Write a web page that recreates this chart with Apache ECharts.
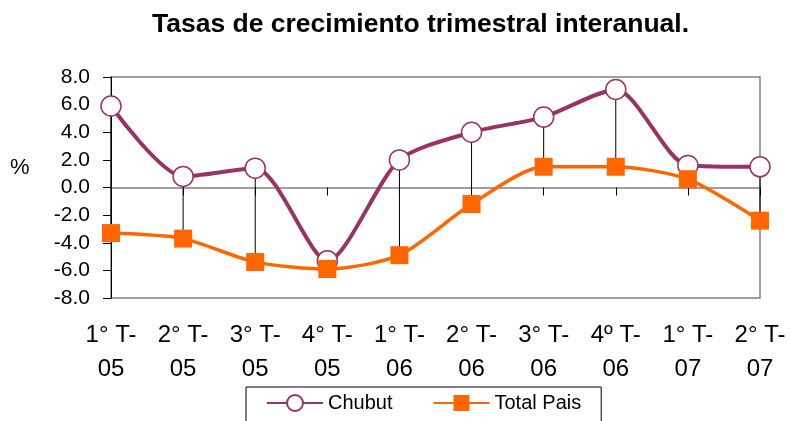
<!DOCTYPE html>
<html>
<head>
<meta charset="utf-8">
<script src="https://cdn.jsdelivr.net/npm/echarts@6/dist/echarts.min.js"></script>
<style>
  html, body { margin: 0; padding: 0; background: #fff; }
  #chart { width: 790px; height: 421px; }
</style>
</head>
<body>
<div id="chart"></div>
<script>
// trimestres
const categories = ['1° T-\n05', '2° T-\n05', '3° T-\n05', '4° T-\n05', '1° T-\n06',
                    '2° T-\n06', '3° T-\n06', '4º T-\n06', '1° T-\n07', '2° T-\n07'];
const chubut = [5.9, 0.8, 1.4, -5.3, 2.0, 4.0, 5.1, 7.1, 1.6, 1.5];
const totalPais = [-3.3, -3.7, -5.4, -5.9, -4.9, -1.2, 1.5, 1.5, 0.6, -2.4];

const font = '"Liberation Sans", Arial, sans-serif';

// lineas verticales entre las dos series
const dropData = categories.map((c, i) => [i, chubut[i], totalPais[i]]);

const chart = echarts.init(document.getElementById('chart'));
chart.setOption({
    animation: false,
    title: {
        text: 'Tasas de crecimiento trimestral interanual.',
        left: 147,
        top: 6,
        textStyle: { fontFamily: font, fontSize: 26.5, fontWeight: 'bold', color: '#000' }
    },
    graphic: [{
        type: 'text',
        left: 10,
        top: 157,
        style: { text: '%', font: '22px ' + font, fill: '#000' }
    }],
    legend: {
        data: ['Chubut', 'Total Pais'],
        left: 246,
        top: 387,
        padding: [6, 20, 20, 20],
        itemWidth: 56,
        itemHeight: 20,
        itemGap: 40,
        borderColor: '#000',
        borderWidth: 1,
        textStyle: { fontFamily: font, fontSize: 20, color: '#000' }
    },
    grid: {
        left: 111,
        right: 30,
        top: 77,
        bottom: 123,
        show: true,
        borderColor: '#808080',
        borderWidth: 1.5
    },
    xAxis: [{
        type: 'category',
        data: categories,
        boundaryGap: false,
        position: 'top',
        axisLine: { onZero: true, lineStyle: { color: '#808080', width: 1.5 } },
        axisTick: { show: true, inside: true, length: 8, lineStyle: { color: '#000' } },
        axisLabel: { show: false },
        splitLine: { show: false }
    }, {
        type: 'category',
        data: categories,
        boundaryGap: false,
        position: 'bottom',
        axisLine: { show: false },
        axisTick: { show: false },
        axisLabel: {
            margin: 20,
            fontFamily: font,
            fontSize: 24,
            lineHeight: 34,
            color: '#000'
        },
        splitLine: { show: false }
    }],
    yAxis: {
        type: 'value',
        min: -8,
        max: 8,
        interval: 2,
        axisLine: { show: true, onZero: false, lineStyle: { color: '#000', width: 1 } },
        axisTick: { show: true, length: 8, lineStyle: { color: '#000' } },
        axisLabel: {
            margin: 21,
            fontFamily: font,
            fontSize: 21,
            color: '#000',
            formatter: v => v.toFixed(1)
        },
        splitLine: { show: false }
    },
    series: [{
        name: 'drop',
        type: 'custom',
        xAxisIndex: 0,
        data: dropData,
        encode: { x: 0, y: [1, 2] },
        z: 1,
        silent: true,
        renderItem: (params, api) => {
            const a = api.coord([api.value(0), api.value(1)]);
            const b = api.coord([api.value(0), api.value(2)]);
            return {
                type: 'line',
                shape: { x1: a[0], y1: a[1], x2: b[0], y2: b[1] },
                style: { stroke: '#000', lineWidth: 1 }
            };
        }
    }, {
        name: 'Chubut',
        type: 'line',
        xAxisIndex: 0,
        data: chubut,
        smooth: 0.25,
        z: 2,
        symbol: 'circle',
        symbolSize: 20,
        lineStyle: { color: '#993366', width: 4 },
        itemStyle: { color: '#fff', borderColor: '#993366', borderWidth: 1.5 }
    }, {
        name: 'Total Pais',
        type: 'line',
        xAxisIndex: 0,
        data: totalPais,
        smooth: 0.25,
        z: 3,
        symbol: 'rect',
        symbolSize: 18,
        lineStyle: { color: '#FF6600', width: 3.5 },
        itemStyle: { color: '#FF6600' }
    }]
});
</script>
</body>
</html>
